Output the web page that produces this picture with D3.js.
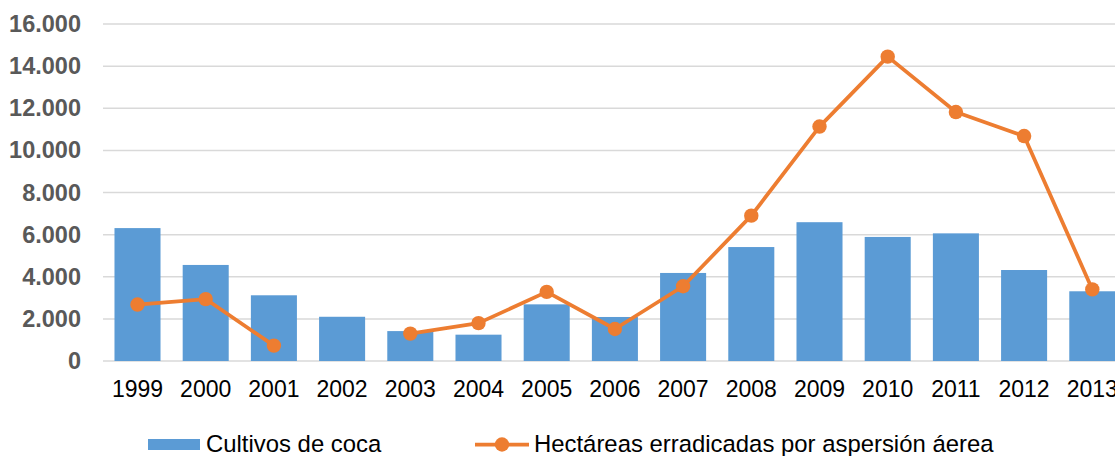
<!DOCTYPE html>
<html>
<head>
<meta charset="utf-8">
<script src="https://cdn.jsdelivr.net/npm/d3@7"></script>
<style>
  html, body { margin: 0; padding: 0; background: #fff; }
  svg { display: block; }
  text { font-family: "Liberation Sans", Arial, sans-serif; }
</style>
</head>
<body>
<svg id="chart" width="1115" height="456"></svg>
<script>
const years = ["1999","2000","2001","2002","2003","2004","2005","2006","2007","2008","2009","2010","2011","2012","2013"];
const cultivos = [6310, 4560, 3120, 2100, 1420, 1250, 2690, 2090, 4180, 5410, 6590, 5890, 6060, 4320, 3310];
const erradicadas = [2680, 2940, 730, null, 1300, 1800, 3280, 1520, 3550, 6900, 11130, 14450, 11820, 10680, 3400];
const yTicks = [0, 2000, 4000, 6000, 8000, 10000, 12000, 14000, 16000];
const seriesNames = ["Cultivos de coca", "Hectáreas erradicadas por aspersión áerea"];

const blue = "#5B9BD5", orange = "#ED7D31";
const svg = d3.select("#chart");
const W = 1115;

const x = d3.scaleBand().domain(years).range([103.4, 1126.4]).paddingInner(0.325).paddingOuter(0.1625);
const y = d3.scaleLinear().domain([0, 16000]).range([361, 24]);

const fmt = v => d3.format(",")(v).replace(/,/g, ".");

// grid
svg.append("g").selectAll("line").data(yTicks).join("line")
  .attr("x1", 103).attr("x2", W)
  .attr("y1", d => y(d)).attr("y2", d => y(d))
  .attr("stroke", "#d9d9d9").attr("stroke-width", 1.5);

// y labels
svg.append("g").selectAll("text").data(yTicks).join("text")
  .attr("x", 81).attr("y", d => y(d))
  .attr("text-anchor", "end").attr("dominant-baseline", "central")
  .attr("font-size", 23.5).attr("font-weight", "bold").attr("fill", "#595959")
  .text(d => fmt(d));

// bars
svg.append("g").selectAll("rect").data(years).join("rect")
  .attr("x", d => x(d)).attr("width", x.bandwidth())
  .attr("y", (d, i) => y(cultivos[i]))
  .attr("height", (d, i) => y(0) - y(cultivos[i]))
  .attr("fill", blue);

// x labels (last one is cut by the right edge, as in the reference)
svg.append("g").selectAll("text").data(years).join("text")
  .attr("x", d => x(d) + x.bandwidth() / 2).attr("y", 397)
  .attr("text-anchor", "middle")
  .attr("font-size", 23).attr("fill", "#000")
  .text(d => d);

// line
const pts = years.map((yr, i) => ({ yr, v: erradicadas[i] }));
const line = d3.line().defined(d => d.v != null)
  .x(d => x(d.yr) + x.bandwidth() / 2).y(d => y(d.v));
svg.append("path").datum(pts).attr("d", line)
  .attr("fill", "none").attr("stroke", orange).attr("stroke-width", 3.75)
  .attr("stroke-linejoin", "round");
svg.append("g").selectAll("circle").data(pts.filter(d => d.v != null)).join("circle")
  .attr("cx", d => x(d.yr) + x.bandwidth() / 2).attr("cy", d => y(d.v))
  .attr("r", 7.2).attr("fill", orange);

// legend
const lg = svg.append("g");
lg.append("rect").attr("x", 148).attr("y", 439).attr("width", 52).attr("height", 11).attr("fill", blue);
lg.append("text").attr("x", 206).attr("y", 452).attr("font-size", 23.9).attr("fill", "#000").text(seriesNames[0]);
lg.append("line").attr("x1", 475).attr("x2", 529).attr("y1", 444.5).attr("y2", 444.5)
  .attr("stroke", orange).attr("stroke-width", 3.75);
lg.append("circle").attr("cx", 502).attr("cy", 444.5).attr("r", 7.2).attr("fill", orange);
lg.append("text").attr("x", 534).attr("y", 452).attr("font-size", 23.9).attr("fill", "#000").text(seriesNames[1]);
</script>
</body>
</html>
